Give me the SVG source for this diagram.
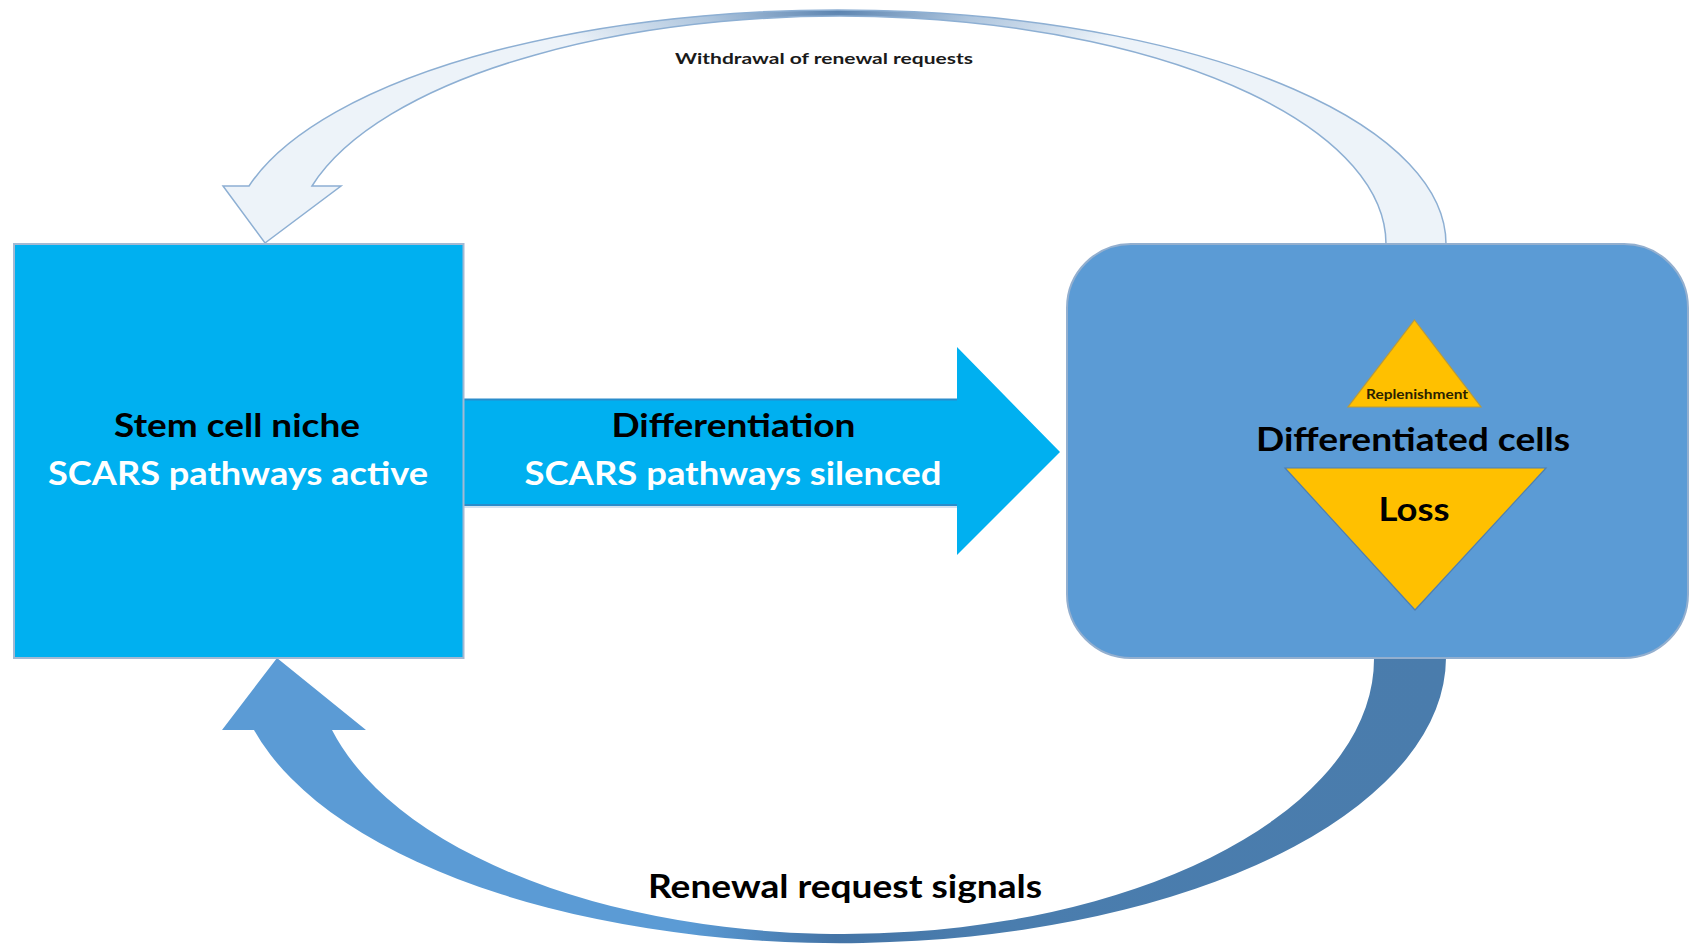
<svg xmlns="http://www.w3.org/2000/svg" width="1690" height="944" viewBox="0 0 1690 944">
<defs>
<radialGradient id="topShade" gradientUnits="userSpaceOnUse" cx="838" cy="12" r="300" gradientTransform="translate(838 12) scale(1 0.22) translate(-838 -12)">
<stop offset="0" stop-color="#5C84B0"/>
<stop offset="0.45" stop-color="#AFC6DE"/>
<stop offset="1" stop-color="#EDF3F9"/>
</radialGradient>
<linearGradient id="botShade" gradientUnits="userSpaceOnUse" x1="223" y1="0" x2="1446" y2="0">
<stop offset="0" stop-color="#5B9BD5"/>
<stop offset="0.38" stop-color="#5B9BD5"/>
<stop offset="0.5" stop-color="#4474A6"/>
<stop offset="0.62" stop-color="#4A7DAE"/>
<stop offset="1" stop-color="#4A7CAC"/>
</linearGradient>
<style>
.lbl{font-family:Lato,"Liberation Sans",Arial,sans-serif;font-weight:bold;text-anchor:middle}
.big{font-size:32px}
.blk{fill:#000}
.wht{fill:#FFFFFF}
.tri{fill:#FFC000;stroke:#B89A3C;stroke-width:1.2}
</style>
</defs>
<rect width="1690" height="944" fill="#FFFFFF"/>

<g id="connectors">
  <g id="withdrawal-arrow">
    <path d="M1446,244 A608,234 0 0 0 249,186 L223,186 L265,243 L341,186 L312,186 A546,228 0 0 1 1386,244 Z" fill="url(#topShade)" stroke="#8DAFD3" stroke-width="1.5"/>
    <text class="lbl" x="824" y="64" font-size="15" fill="#1A1A1A" textLength="298" lengthAdjust="spacingAndGlyphs">Withdrawal of renewal requests</text>
  </g>
  <g id="renewal-arrow">
    <path d="M1446,658 A606,286 0 0 1 254,730 L222,730 L277,658 L366,730 L332,730 A530,275 0 0 0 1374,658 Z" fill="url(#botShade)"/>
    <text class="lbl blk big" x="845" y="898" textLength="394" lengthAdjust="spacingAndGlyphs">Renewal request signals</text>
  </g>
  <g id="differentiation-arrow">
    <polygon points="463,399 957,399 957,347 1060,452 957,555 957,505 463,505" fill="#00B0F0"/>
    <line x1="463" y1="399.5" x2="957" y2="399.5" stroke="#2A8CCB" stroke-width="2"/>
    <line x1="463" y1="505" x2="957" y2="505" stroke="#2A8CCB" stroke-width="2"/>
    <line x1="463" y1="507" x2="957" y2="507" stroke="#D3E2F0" stroke-width="2"/>
    <text class="lbl blk big" x="733.5" y="437" textLength="244" lengthAdjust="spacingAndGlyphs">Differentiation</text>
    <text class="lbl wht big" x="733" y="485" textLength="417" lengthAdjust="spacingAndGlyphs">SCARS pathways silenced</text>
  </g>
</g>

<g id="stem-cell-niche">
  <rect x="14" y="244" width="449.5" height="414" fill="#00B0F0" stroke="#A3B9D3" stroke-width="2"/>
  <text class="lbl blk big" x="237" y="437" textLength="246" lengthAdjust="spacingAndGlyphs">Stem cell niche</text>
  <text class="lbl wht big" x="238" y="485" textLength="380" lengthAdjust="spacingAndGlyphs">SCARS pathways active</text>
</g>

<g id="differentiated-cells">
  <rect x="1067" y="244" width="621" height="414" rx="64" ry="64" fill="#5B9BD5" stroke="#93AFCF" stroke-width="2"/>
  <g id="replenishment">
    <polygon class="tri" points="1414.5,320 1481,407 1348,407"/>
    <text class="lbl" x="1417" y="399" font-size="13" fill="#2A2200" textLength="102" lengthAdjust="spacingAndGlyphs">Replenishment</text>
  </g>
  <text class="lbl blk" x="1413" y="451" font-size="33" textLength="314" lengthAdjust="spacingAndGlyphs">Differentiated cells</text>
  <g id="loss">
    <polygon class="tri" points="1285,468 1546,468 1415,610" style="stroke:#4F7FB0"/>
    <text class="lbl blk" x="1414" y="521" font-size="33" textLength="71" lengthAdjust="spacingAndGlyphs">Loss</text>
  </g>
</g>
</svg>
